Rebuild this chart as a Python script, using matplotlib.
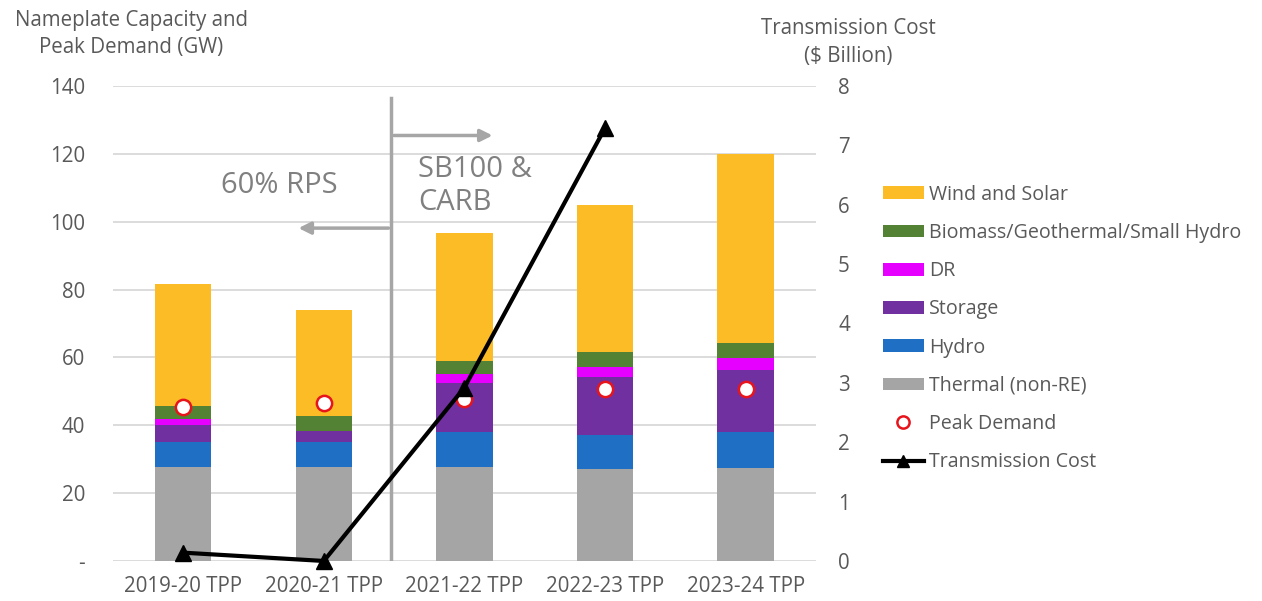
import matplotlib.pyplot as plt
import numpy as np

plt.rcParams['font.family'] = ['Open Sans', 'DejaVu Sans']

# data
plans = ["2019-20 TPP", "2020-21 TPP", "2021-22 TPP", "2022-23 TPP", "2023-24 TPP"]
thermal = [27.8, 27.8, 27.8, 27.2, 27.5]
hydro = [7.2, 7.2, 10.1, 9.8, 10.4]
storage = [5.1, 3.3, 14.5, 17.3, 18.4]
dr = [1.7, 0.0, 2.7, 2.8, 3.6]
biomass = [3.9, 4.5, 3.8, 4.5, 4.3]
wind_solar = [35.9, 31.2, 37.9, 43.3, 55.7]
peak_demand = [45.5, 46.7, 47.7, 50.7, 50.6]
trans_cost = [0.14, 0.0, 2.92, 7.29]

layers = [
    ("Thermal (non-RE)", thermal, "#a5a5a5"),
    ("Hydro", hydro, "#1f6fc5"),
    ("Storage", storage, "#7030a0"),
    ("DR", dr, "#e600ff"),
    ("Biomass/Geothermal/Small Hydro", biomass, "#548235"),
    ("Wind and Solar", wind_solar, "#fbbc26"),
]

txt = "#595959"
fs = 14.8
fig = plt.figure(figsize=(12.62, 6.01), dpi=100)
ax = fig.add_axes([0.0895, 0.0666, 0.557, 0.7904])
x = np.arange(len(plans))

bottom = np.zeros(len(plans))
handles = {}
for name, vals, col in layers:
    b = ax.bar(x, vals, 0.4, bottom=bottom, color=col, label=name, zorder=2)
    handles[name] = b
    bottom += np.array(vals)

pk, = ax.plot(x, peak_demand, "o", ms=11, mfc="white", mec="#e8141c", mew=1.8,
              ls="none", zorder=5, label="Peak Demand")

ax.set_xlim(-0.5, 4.5)
ax.set_ylim(0, 140)
ax.set_yticks(np.arange(0, 141, 20))
ax.set_yticklabels(["-"] + [str(v) for v in range(20, 141, 20)])
ax.set_xticks(x)
ax.set_xticklabels(plans)
ax.grid(axis="y", color="#d9d9d9", lw=1.3, zorder=0)
ax.tick_params(axis="both", length=0, labelsize=fs, labelcolor=txt)
ax.tick_params(axis="y", pad=20)
ax.tick_params(axis="x", pad=11)
for s in ax.spines.values():
    s.set_visible(False)

# policy divider and arrows
ax.plot([1.48, 1.48], [0, 136.5], color="#a6a6a6", lw=2.5, zorder=3)
ax.annotate("", xy=(2.22, 125.4), xytext=(1.48, 125.4),
            arrowprops=dict(arrowstyle="-|>", color="#a6a6a6", lw=2.5, mutation_scale=18))
ax.annotate("", xy=(0.80, 98.1), xytext=(1.48, 98.1),
            arrowprops=dict(arrowstyle="-|>", color="#a6a6a6", lw=2.5, mutation_scale=18))
ax.text(0.68, 110.8, "60% RPS", color="#808080", fontsize=21, ha="center", va="center")
ax.text(1.67, 110.5, "SB100 &\nCARB", color="#808080", fontsize=21, ha="left", va="center",
        linespacing=1.15)

ax2 = ax.twinx()
tc, = ax2.plot(x[:len(trans_cost)], trans_cost, color="black", lw=3, marker="^", ms=11,
               zorder=6, label="Transmission Cost", clip_on=False)
ax2.set_ylim(0, 8)
ax2.set_yticks(range(0, 9))
ax2.tick_params(axis="y", length=0, labelsize=fs, labelcolor=txt, pad=16)
for s in ax2.spines.values():
    s.set_visible(False)

fig.text(0.104, 0.943, "Nameplate Capacity and\nPeak Demand (GW)", color=txt, fontsize=fs,
         ha="center", va="center", linespacing=1.4)
fig.text(0.672, 0.929, "Transmission Cost\n($ Billion)", color=txt, fontsize=fs,
         ha="center", va="center", linespacing=1.4)

order = ["Wind and Solar", "Biomass/Geothermal/Small Hydro", "DR", "Storage", "Hydro",
         "Thermal (non-RE)"]
hl = [handles[n] for n in order] + [pk, tc]
lb = order + ["Peak Demand", "Transmission Cost"]
lfs = 14.1
fig.legend(hl, lb, loc="upper left", bbox_to_anchor=(0.6855, 0.722), frameon=False,
           fontsize=lfs, labelcolor=txt, handlelength=2.1, handleheight=0.62,
           handletextpad=0.25, labelspacing=0.93, markerscale=0.8)

fig.savefig("out.png", dpi=100)
